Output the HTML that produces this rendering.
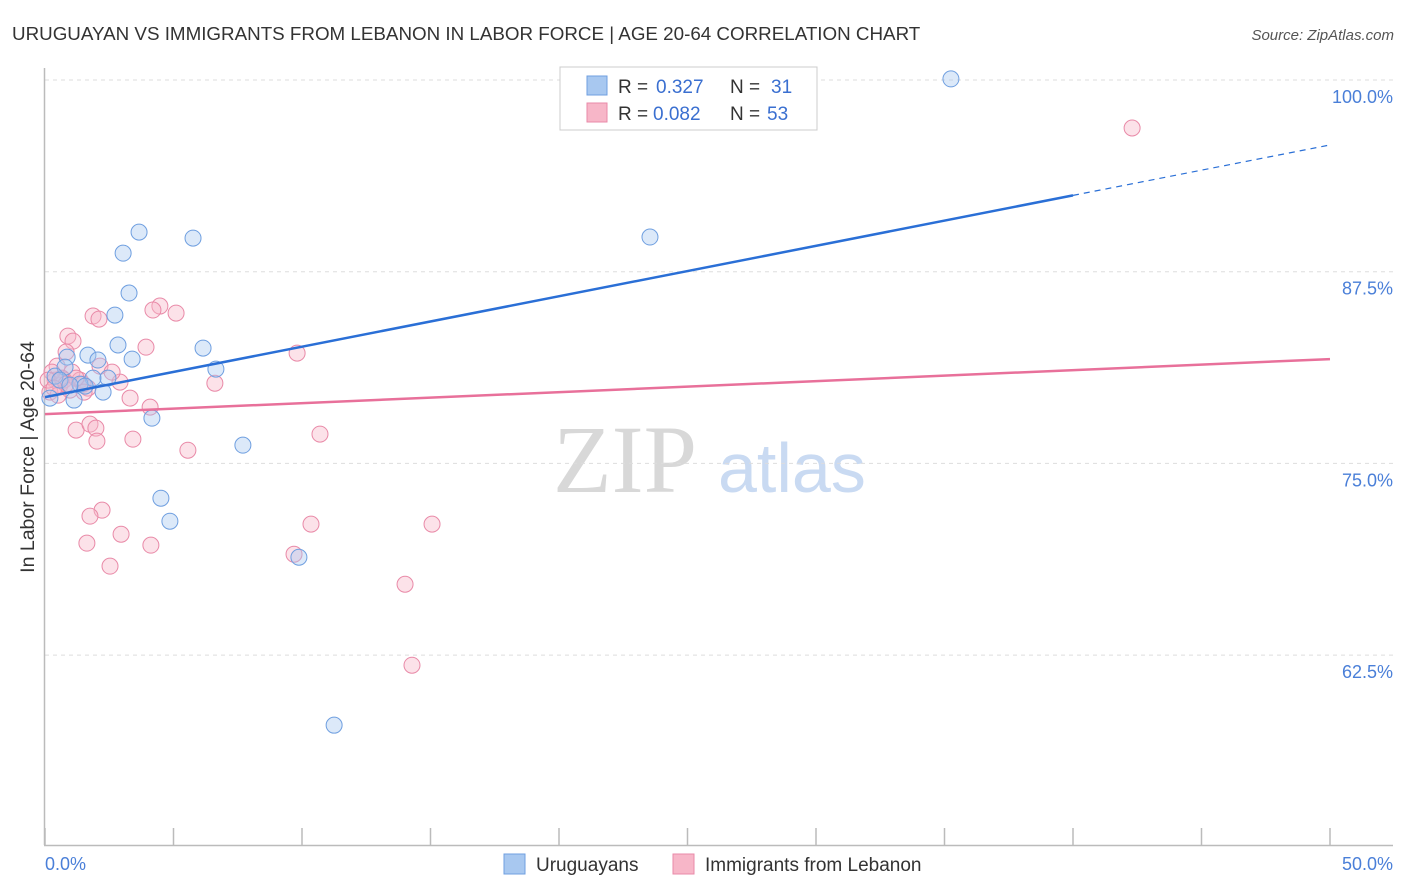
<!DOCTYPE html>
<html><head><meta charset="utf-8">
<style>
body{margin:0;background:#fff;font-family:"Liberation Sans",sans-serif;}
svg{display:block}
</style></head>
<body>
<svg id="chart" width="1406" height="892" viewBox="0 0 1406 892">
<text x="12" y="40" font-size="18.8" fill="#333">URUGUAYAN VS IMMIGRANTS FROM LEBANON IN LABOR FORCE | AGE 20-64 CORRELATION CHART</text>
<text x="1394" y="40" font-size="15" fill="#555" font-style="italic" text-anchor="end">Source: ZipAtlas.com</text>
<g>
<text x="553" y="492" font-family="Liberation Serif,serif" font-size="96" fill="#d8d8d8">ZIP</text>
<text x="718" y="492" font-size="70" fill="#c9daf2">atlas</text>
</g>
<g id="grid"></g>
<line x1="44.5" y1="68" x2="44.5" y2="845" stroke="#bbb" stroke-width="1.5"/>
<line x1="44" y1="845.5" x2="1393" y2="845.5" stroke="#bbb" stroke-width="1.5"/>
<g id="xticks"></g>
<text x="45" y="870" font-size="18" fill="#4a7fd8">0.0%</text>
<text x="1393" y="870" font-size="18" fill="#4a7fd8" text-anchor="end">50.0%</text>
<text transform="translate(34,457) rotate(-90)" font-size="19.5" fill="#333" text-anchor="middle">In Labor Force | Age 20-64</text>
<g id="pts"></g>
<g id="trends"></g>
<g>
<rect x="560" y="67" width="257" height="63" fill="#fff" stroke="#ccc"/>
<rect x="587" y="76" width="20" height="19" fill="#a8c8f0" stroke="#6f9fe0"/>
<rect x="587" y="103" width="20" height="19" fill="#f7b6c8" stroke="#e98aa8"/>
<text x="618" y="93" font-size="19" fill="#333">R = <tspan x="656" fill="#3a6fd0">0.327</tspan><tspan x="730">N = </tspan><tspan x="771" fill="#3a6fd0">31</tspan></text>
<text x="618" y="120" font-size="19" fill="#333">R = <tspan x="653" fill="#3a6fd0">0.082</tspan><tspan x="730">N = </tspan><tspan x="767" fill="#3a6fd0">53</tspan></text>
</g>
<g>
<rect x="504" y="854" width="21" height="20" fill="#a8c8f0" stroke="#6f9fe0"/>
<text x="536" y="871" font-size="19" fill="#333">Uruguayans</text>
<rect x="673" y="854" width="21" height="20" fill="#f7b6c8" stroke="#e98aa8"/>
<text x="705" y="871" font-size="19" fill="#333">Immigrants from Lebanon</text>
</g>
</svg>
<script>
const yTicks=[100,87.5,75,62.5];
const yTickLabels=["100.0%","87.5%","75.0%","62.5%"];
const xTicks=[0,5,10,15,20,25,30,35,40,45,50];
const uruX=[35.25,3.66,5.76,3.04,23.54,3.27,2.72,2.84,6.15,1.67,3.39,2.06,0.86,6.65,0.78,1.87,2.45,0.39,1.36,1.56,2.26,1.13,4.16,7.70,4.51,4.86,9.88,11.25,0.19,0.58,0.97];
const uruY=[100.07,90.08,89.69,88.71,89.76,86.11,84.67,82.72,82.52,82.06,81.80,81.74,81.93,81.15,81.28,80.56,80.56,80.69,80.17,80.04,79.65,79.13,77.95,76.19,72.73,71.23,68.88,57.93,79.26,80.43,80.10];
const lebX=[42.30,4.47,4.20,5.10,1.87,2.10,0.89,1.09,3.93,0.82,9.81,0.47,2.14,1.05,2.92,6.61,0.39,0.58,0.74,1.36,1.67,0.19,3.31,4.09,1.21,1.75,1.98,10.70,3.42,2.02,5.56,2.22,1.75,1.63,2.96,4.12,10.35,15.06,9.69,2.53,14.01,14.28,0.27,0.12,0.66,1.48,0.97,0.51,1.21,1.52,0.82,0.35,2.61];
const lebY=[96.87,85.26,85.00,84.80,84.61,84.41,83.30,82.97,82.58,82.26,82.19,81.34,81.34,80.95,80.30,80.23,80.43,80.10,80.43,80.43,79.91,79.65,79.26,78.67,77.17,77.56,77.30,76.91,76.58,76.45,75.86,71.95,71.56,69.80,70.38,69.67,71.04,71.04,69.08,68.30,67.12,61.84,80.95,80.43,80.56,80.17,79.78,79.45,80.56,79.65,80.17,79.91,80.95];
const uruTrend=[79.32,0.3289];
const lebTrend=[78.21,0.0718];
const uruSolidEnd=40;
const NS="http://www.w3.org/2000/svg";
const xs=v=>45+v*25.7;
const ys=v=>80+(100-v)*15.336;
function mk(tag,attrs,parent){const e=document.createElementNS(NS,tag);for(const k in attrs)e.setAttribute(k,attrs[k]);parent.appendChild(e);return e;}
const grid=document.getElementById('grid');
yTicks.forEach((t,i)=>{
 const l=mk('line',{x1:45,x2:1393,y1:ys(t),y2:ys(t),stroke:'#ddd','stroke-dasharray':'4,4'},grid);
 
 
 const tx=mk('text',{x:1393,y:ys(t)+23,'font-size':18,fill:'#4a7fd8','text-anchor':'end'},grid);
 tx.textContent=yTickLabels[i];
 
 
});
const xt=document.getElementById('xticks');
xTicks.forEach(t=>{
 const l=mk('line',{x1:xs(t),x2:xs(t),y1:828,y2:845,stroke:'#bbb','stroke-width':1.5},xt);
 
 
});
const pts=document.getElementById('pts');
lebX.forEach((x,i)=>{
 const c=mk('circle',{cx:xs(x),cy:ys(lebY[i]),r:8,fill:'#f7b6c8','fill-opacity':0.4,stroke:'#e98aa8','stroke-width':1},pts);
 
 
});
uruX.forEach((x,i)=>{
 const c=mk('circle',{cx:xs(x),cy:ys(uruY[i]),r:8,fill:'#a8c8f0','fill-opacity':0.4,stroke:'#6f9fe0','stroke-width':1},pts);
 
 
});
const tr=document.getElementById('trends');
const f=(t,x)=>t[0]+t[1]*x;
const b1=mk('line',{x1:xs(0),y1:ys(f(uruTrend,0)),x2:xs(uruSolidEnd),y2:ys(f(uruTrend,uruSolidEnd)),stroke:'#2a6fd6','stroke-width':2.5},tr);


const b2=mk('line',{x1:xs(uruSolidEnd),y1:ys(f(uruTrend,uruSolidEnd)),x2:xs(50),y2:ys(f(uruTrend,50)),stroke:'#2a6fd6','stroke-width':1.2,'stroke-dasharray':'6,5'},tr);


const p1=mk('line',{x1:xs(0),y1:ys(f(lebTrend,0)),x2:xs(50),y2:ys(f(lebTrend,50)),stroke:'#e8709a','stroke-width':2.5},tr);


</script>
</body></html>
